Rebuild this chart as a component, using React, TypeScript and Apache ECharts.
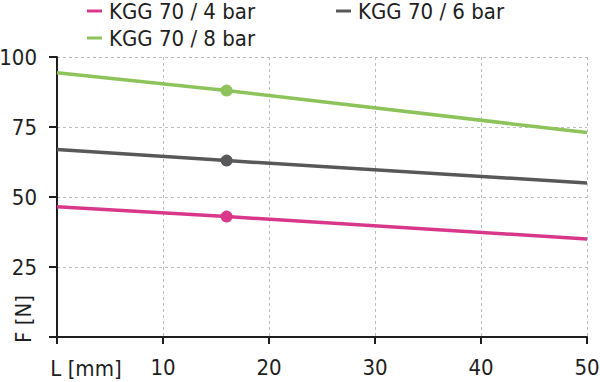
import React, { useEffect, useRef } from "react";
import * as echarts from "echarts";

const seriesNames = ["KGG 70 / 4 bar", "KGG 70 / 6 bar", "KGG 70 / 8 bar"];
const xValues = [0, 16, 50];
const pinkValues = [46.5, 43, 35];
const grayValues = [67, 63, 55];
const greenValues = [94.4, 88, 73];
const markerX = 16;
const yTicks = [0, 25, 50, 75, 100];
const xTicks = [0, 10, 20, 30, 40, 50];
const xAxisTitle = "L [mm]";
const yAxisTitle = "F [N]";

const colors = ["#d9388a", "#58585a", "#8dc35a"];
const FONT = "'DejaVu Sans Condensed', 'DejaVu Sans', sans-serif";
const TEXT = "#1e1e1e";
const FS = 22;

function buildData(vals: number[]) {
  return xValues.map((x, i) => ({
    value: [x, vals[i]],
    symbol: x === markerX ? "circle" : "none",
    symbolSize: x === markerX ? 12 : 0,
  }));
}

export default function App() {
  const ref = useRef<HTMLDivElement>(null);
  useEffect(() => {
    if (!ref.current) return;
    const chart = echarts.init(ref.current, null, { renderer: "svg" });
    const allVals = [pinkValues, grayValues, greenValues];
    const legendBase = {
      orient: "horizontal" as const,
      icon: "rect",
      itemWidth: 15,
      itemHeight: 3,
      padding: 0,
      textStyle: { fontFamily: FONT, fontSize: FS, color: TEXT, padding: [0, 0, 0, 2] },
    };
    chart.setOption({
      animation: false,
      textStyle: { fontFamily: FONT },
      legend: [
        { ...legendBase, data: [seriesNames[0]], left: 87, top: 0 },
        { ...legendBase, data: [seriesNames[1]], left: 336, top: 0 },
        { ...legendBase, data: [seriesNames[2]], left: 87, top: 27 },
      ],
      grid: {
        left: 57,
        right: 13,
        top: 57,
        bottom: 45,
        containLabel: false,
        outerBoundsMode: "none",
      },
      xAxis: {
        type: "value",
        min: xTicks[0],
        max: xTicks[xTicks.length - 1],
        interval: 10,
        axisLine: { show: true, onZero: false, lineStyle: { color: TEXT, width: 2 } },
        axisTick: { show: true, length: 7, lineStyle: { color: TEXT, width: 2 } },
        axisLabel: {
          fontFamily: FONT,
          fontSize: FS,
          color: TEXT,
          margin: 19,
          formatter: (v: number) => (v === 0 ? "" : String(v)),
        },
        splitLine: { show: true, lineStyle: { color: "#bdbdbd", type: [3, 3], width: 1 } },
      },
      yAxis: {
        type: "value",
        min: yTicks[0],
        max: yTicks[yTicks.length - 1],
        interval: 25,
        axisLine: { show: true, onZero: false, lineStyle: { color: TEXT, width: 2 } },
        axisTick: { show: true, length: 8, lineStyle: { color: TEXT, width: 2 } },
        axisLabel: {
          fontFamily: FONT,
          fontSize: FS,
          color: TEXT,
          margin: 20,
          formatter: (v: number) => (v === 0 ? "" : String(v)),
        },
        splitLine: { show: true, lineStyle: { color: "#bdbdbd", type: [3, 3], width: 1 } },
      },
      graphic: [
        {
          type: "text",
          x: 86,
          y: 368,
          style: {
            text: xAxisTitle,
            fontFamily: FONT,
            fontSize: FS,
            fill: TEXT,
            align: "center",
            verticalAlign: "middle",
          },
        },
        {
          type: "text",
          x: 23,
          y: 319,
          rotation: Math.PI / 2,
          style: {
            text: yAxisTitle,
            fontFamily: FONT,
            fontSize: FS,
            fill: TEXT,
            align: "center",
            verticalAlign: "middle",
          },
        },
      ],
      series: seriesNames.map((name, i) => ({
        name,
        type: "line",
        data: buildData(allVals[i]),
        color: colors[i],
        lineStyle: { color: colors[i], width: 3.5 },
        itemStyle: { color: colors[i] },
        showSymbol: true,
        z: 3,
      })),
    });
    return () => chart.dispose();
  }, []);
  return <div ref={ref} style={{ width: 600, height: 382, position: "absolute", left: 0, top: 0 }} />;
}
